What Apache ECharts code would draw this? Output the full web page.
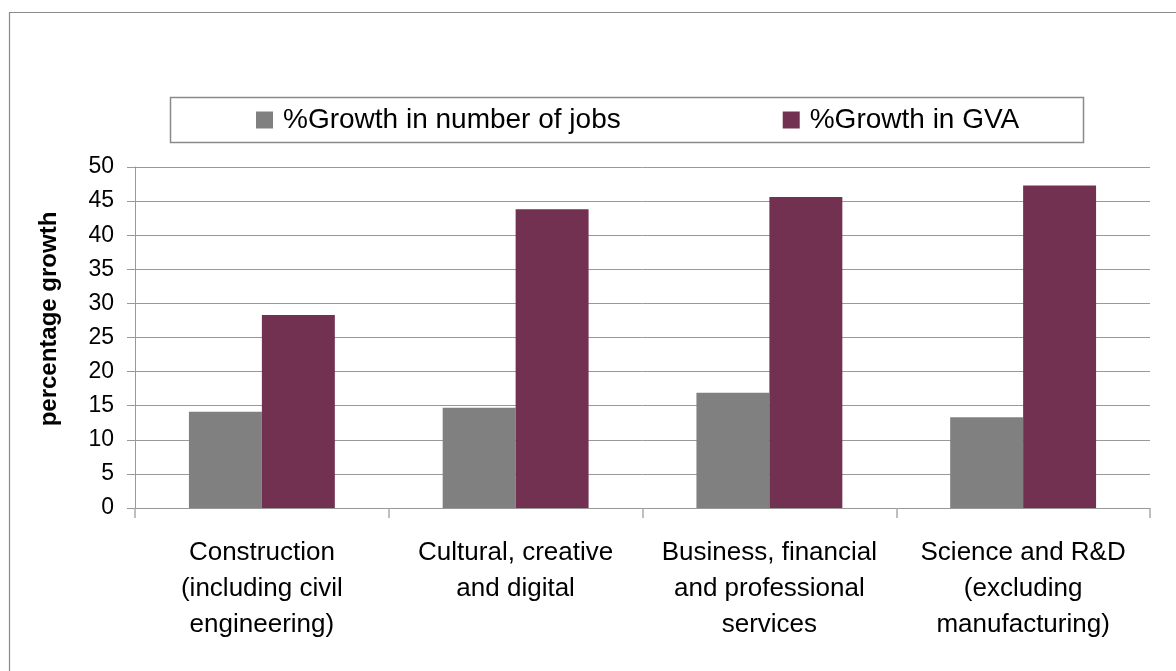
<!DOCTYPE html>
<html>
<head>
<meta charset="utf-8">
<script src="https://cdn.jsdelivr.net/npm/echarts@6/dist/echarts.min.js"></script>
<style>
html,body{margin:0;padding:0;background:#fff;}
#chart{width:1176px;height:671px;}
</style>
</head>
<body>
<div id="chart"></div>
<script>
var categories = [
  "Construction\n(including civil\nengineering)",
  "Cultural, creative\nand digital",
  "Business, financial\nand professional\nservices",
  "Science and R&D\n(excluding\nmanufacturing)"
];
var seriesNames = ["%Growth in number of jobs", "%Growth in GVA"];
var jobsGrowth = [14.1, 14.7, 16.9, 13.3];
var gvaGrowth = [28.3, 43.8, 45.6, 47.3];
var yAxisTitle = "percentage growth";

var FONT = "'Liberation Sans', Arial, sans-serif";
var chart = echarts.init(document.getElementById('chart'), null, {renderer: 'canvas'});
chart.setOption({
  backgroundColor: '#ffffff',
  animation: false,
  textStyle: {fontFamily: FONT, color: '#000'},
  graphic: [
    {type: 'rect', shape: {x: 9.5, y: 12.5, width: 1400, height: 1000},
     style: {fill: 'none', stroke: '#8a8a8a', lineWidth: 1.2}, z: 0},
    {type: 'rect', shape: {x: 170.5, y: 97.5, width: 913, height: 45},
     style: {fill: '#fff', stroke: '#8a8a8a', lineWidth: 1.5}, z: 1},
    {type: 'text', x: 49, y: 319, rotation: Math.PI / 2,
     style: {text: yAxisTitle, fontFamily: FONT, fontSize: 24, fontWeight: 'bold',
             fill: '#000', align: 'center', verticalAlign: 'middle'}, z: 5}
  ],
  legend: {
    data: seriesNames,
    left: 256,
    top: 106,
    padding: 0,
    itemWidth: 17,
    itemHeight: 17,
    itemGap: 162,
    icon: 'rect',
    z: 10,
    textStyle: {fontFamily: FONT, fontSize: 28, color: '#000', padding: [0, 0, 0, 5]}
  },
  grid: {left: 135, right: 26, top: 167, bottom: 163, containLabel: false, outerBoundsMode: 'none'},
  xAxis: {
    type: 'category',
    data: categories,
    axisLine: {show: true, lineStyle: {color: '#999', width: 1}},
    axisTick: {show: true, length: 10, lineStyle: {color: '#aaa', width: 1.5}},
    axisLabel: {interval: 0, fontFamily: FONT, fontSize: 26, lineHeight: 36, margin: 27, color: '#000'},
    splitLine: {show: false}
  },
  yAxis: {
    type: 'value',
    min: 0, max: 50, interval: 5,
    axisLine: {show: true, lineStyle: {color: '#999', width: 1}},
    axisTick: {show: true, length: 8, lineStyle: {color: '#999'}},
    axisLabel: {fontFamily: FONT, fontSize: 23, margin: 21, color: '#000'},
    splitLine: {show: true, lineStyle: {color: '#999', width: 1}}
  },
  series: [
    {name: seriesNames[0], type: 'bar', data: jobsGrowth, barGap: '0%', barCategoryGap: '42.5%',
     itemStyle: {color: '#808080'}},
    {name: seriesNames[1], type: 'bar', data: gvaGrowth, barGap: '0%', barCategoryGap: '42.5%',
     itemStyle: {color: '#723150'}}
  ]
});
</script>
</body>
</html>
